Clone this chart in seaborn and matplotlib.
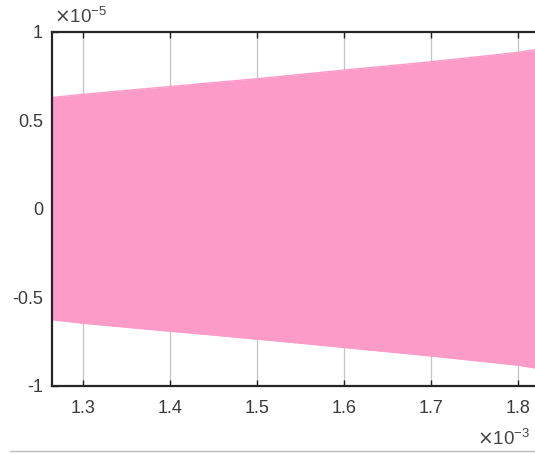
import matplotlib
matplotlib.use("Agg")
import matplotlib.pyplot as plt
import seaborn as sns
import numpy as np
import pandas as pd
from matplotlib.lines import Line2D

# envelope of the dense oscillation (x in 1e-3 s, y in 1e-5)
t_ms = [1.2644, 1.30, 1.35, 1.40, 1.45, 1.50, 1.55, 1.60, 1.65, 1.70, 1.75, 1.80, 1.82]
upper = [0.630, 0.648, 0.670, 0.692, 0.714, 0.736, 0.760, 0.785, 0.808, 0.832, 0.858, 0.885, 0.900]
lower = [-0.625, -0.645, -0.668, -0.690, -0.712, -0.735, -0.758, -0.782, -0.806, -0.830, -0.856, -0.882, -0.898]

xticks = [1.3, 1.4, 1.5, 1.6, 1.7, 1.8]
xticklabels = ["1.3", "1.4", "1.5", "1.6", "1.7", "1.8"]
yticks = [-1, -0.5, 0, 0.5, 1]
yticklabels = ["-1", "-0.5", "0", "0.5", "1"]

sns.set_style("white")
plt.rcParams['font.family'] = ['Liberation Sans', 'DejaVu Sans']

fig = plt.figure(figsize=(5.35, 4.54), dpi=100)
ax = fig.add_axes([52/535, 1-386/454, 1-52/535, (386-32)/454])

df = pd.DataFrame({"t": t_ms, "upper": upper, "lower": lower})
pink = "#fc9bc8"
ax.fill_between(df["t"], df["lower"], df["upper"], color=pink, lw=0, zorder=2)
sns.lineplot(data=df, x="t", y="upper", ax=ax, color=pink, lw=1, zorder=2)
sns.lineplot(data=df, x="t", y="lower", ax=ax, color=pink, lw=1, zorder=2)

ax.set_xlim(1.2644, 1.8196)
ax.set_ylim(-1, 1)
ax.set_xticks(xticks)
ax.set_xticklabels(xticklabels)
ax.set_yticks(yticks)
ax.set_yticklabels(yticklabels)
ax.set_xlabel("")
ax.set_ylabel("")
ax.xaxis.grid(True, color="#c4c4c4", lw=0.9, zorder=0)
ax.set_axisbelow(True)
ax.tick_params(axis="both", direction="in", length=4, width=1, color="#222222",
               labelsize=13, labelcolor="#3a3a3a", top=True, left=True, bottom=True)
ax.tick_params(axis="x", pad=10)
ax.tick_params(axis="y", pad=6.5)
for s in ["top", "bottom", "left"]:
    ax.spines[s].set_color("#262626")
    ax.spines[s].set_linewidth(1.6)
    ax.spines[s].set_zorder(5)
ax.spines["right"].set_visible(False)

fig.text(54/535, 1-23/454, r"$\times\mathregular{10^{-5}}$", fontsize=13.5, color="#444444",
         ha="left", va="baseline")
fig.text(477/535, 1-445/454, r"$\times\mathregular{10^{-3}}$", fontsize=13.5, color="#444444",
         ha="left", va="baseline")

fig.add_artist(Line2D([10/535, 1.0], [1-451/454, 1-451/454], color="#bbbbbb", lw=1.0))

fig.savefig("out.png", dpi=100)
